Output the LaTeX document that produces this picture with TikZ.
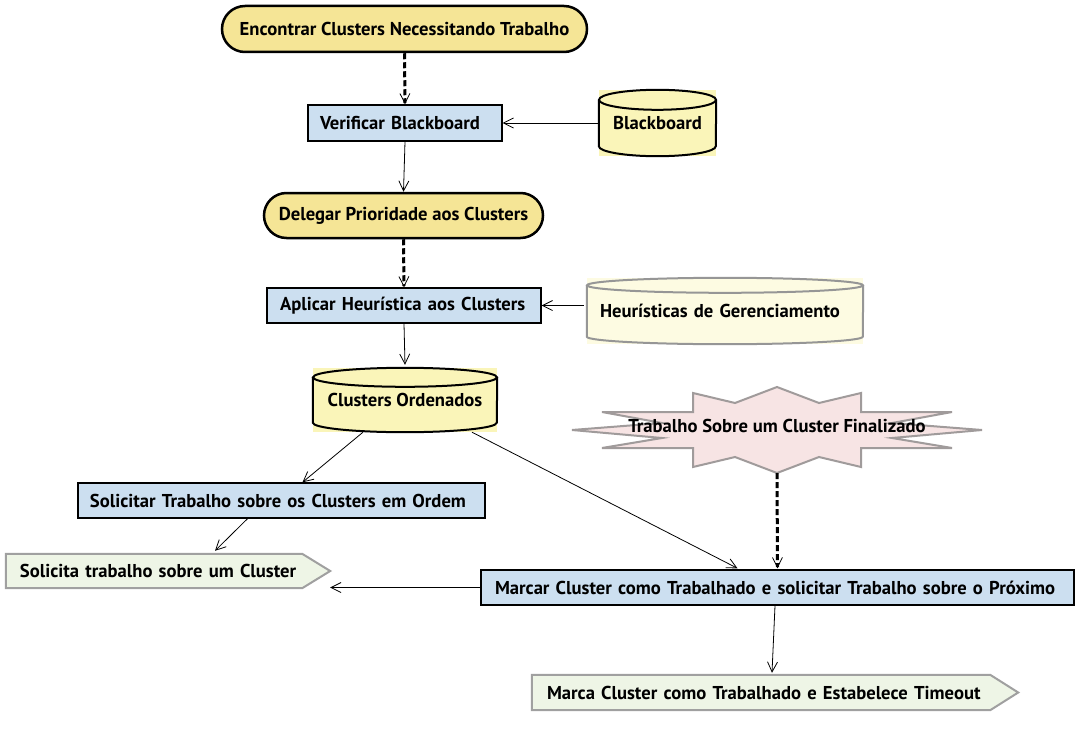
\documentclass[tikz,border=0pt]{standalone}
\usepackage{fontspec}
\setmainfont{PT Sans}
\usetikzlibrary{arrows.meta,calc,shapes.misc,backgrounds}
\definecolor{stadfill}{RGB}{245,229,150}
\definecolor{boxfill}{RGB}{204,223,240}
\definecolor{cylfill}{RGB}{250,245,185}
\definecolor{cylfillb}{RGB}{253,251,226}
\definecolor{cylgray}{RGB}{150,150,150}
\definecolor{starfill}{RGB}{247,228,228}
\definecolor{stargray}{RGB}{160,155,155}
\definecolor{sigfill}{RGB}{238,245,230}
\definecolor{siggray}{RGB}{160,160,160}
% #1 node, #2 ry, #3 fill, #4 draw colour, #5 half width
\newcommand\drawcyl[5]{%
  \fill[#3] (#1.north west) rectangle (#1.south east);
  \draw[#4, line width=2bp] ($(#1.north west)+(0,#2)$) -- ($(#1.south west)+(0,-#2)$)
     arc[start angle=180, end angle=360, x radius=#5bp, y radius=#2bp]
     -- ($(#1.north east)+(0,#2)$);
  \draw[#4, line width=2bp] ($(#1.north)+(0,#2)$) ellipse[x radius=#5bp, y radius=#2bp];
}
\begin{document}
\begin{tikzpicture}[x=1bp,y=-1bp,
  txt/.style={font=\bfseries\fontsize{18.7}{22}\selectfont, text=black, inner sep=0pt},
  stadium/.style={txt, rounded rectangle, draw=black, line width=2.5bp, fill=stadfill},
  box/.style={txt, rectangle, draw=black, line width=1.4bp, fill=boxfill, align=left},
  cylbox/.style={txt, rectangle},
  sigbox/.style={txt, rectangle, align=left},
  conn/.style={line width=0.8bp, -{Straight Barb[length=10bp,width=10bp]}},
  dconn/.style={line width=3bp, dash pattern=on 6bp off 3bp, -{Straight Barb[length=10bp,width=10bp,line width=0.8bp]}},
]
\useasboundingbox (0,0) rectangle (1079,753);

% nodes
\node[stadium, minimum width=365bp, minimum height=46bp] (enc) at (404.5,29) {Encontrar Clusters Necessitando Trabalho};
\node[box, text width=170bp, inner xsep=12bp, minimum height=36bp] (ver) at (405,123) {Verificar Blackboard};
\node[cylbox, minimum width=117bp, minimum height=66bp] (bb) at (657.5,123) {Blackboard};
\node[stadium, minimum width=279bp, minimum height=45bp] (del) at (403.5,215.5) {Delegar Prioridade aos Clusters};
\node[box, text width=248bp, inner xsep=13bp, minimum height=35bp] (apl) at (404,305.5) {Aplicar Heurística aos Clusters};
\node[cylbox, text width=250bp, inner xsep=13bp, align=left, minimum height=66bp] (heu) at (725,311) {Heurísticas de Gerenciamento};
\node[cylbox, minimum width=184bp, minimum height=64bp] (co) at (405,400) {Clusters Ordenados};
\node[txt, minimum width=410bp, minimum height=94bp] (star) at (777,426) {Trabalho Sobre um Cluster Finalizado};
\node[box, text width=383bp, inner xsep=12bp, minimum height=35bp] (sol) at (281.5,500.5) {Solicitar Trabalho sobre os Clusters em Ordem};
\node[sigbox, text width=296bp, inner xsep=14bp, minimum height=34bp] (sa) at (168,571) {Solicita trabalho sobre um Cluster};
\node[box, text width=565bp, inner xsep=14bp, minimum height=35bp] (mc) at (777.5,587.5) {Marcar Cluster como Trabalhado e solicitar Trabalho sobre o Próximo};
\node[sigbox, text width=456bp, inner xsep=15bp, minimum height=35bp] (ma) at (775,692.5) {Marca Cluster como Trabalhado e Estabelece Timeout};

% backgrounds of custom shapes
\begin{scope}[on background layer]
  \fill[white] (0,0) rectangle (1079,753);
  \drawcyl{bb}{10}{cylfill}{black}{58.5}
  \drawcyl{heu}{7.5}{cylfillb}{cylgray}{138}
  \drawcyl{co}{9.5}{cylfill}{black}{92}
  \draw[stargray, line width=2bp, fill=starfill, shift={(star.center)}]
    (0,-39) -- (42,-23) -- (84,-33) -- (84,-14) -- (175,-14) -- (115,-3) -- (205,4)
    -- (115,12) -- (175,22) -- (84,22) -- (84,41) -- (42,31) -- (0,47)
    -- (-42,31) -- (-84,41) -- (-84,22) -- (-175,22) -- (-115,12) -- (-205,4)
    -- (-115,-3) -- (-175,-14) -- (-84,-14) -- (-84,-33) -- (-42,-23) -- cycle;
  \draw[siggray, line width=2bp, fill=sigfill] (sa.north west) -- ($(sa.north east)+(-28,0)$)
    -- (sa.east) -- ($(sa.south east)+(-28,0)$) -- (sa.south west) -- cycle;
  \draw[siggray, line width=2bp, fill=sigfill] (ma.north west) -- ($(ma.north east)+(-28,0)$)
    -- (ma.east) -- ($(ma.south east)+(-28,0)$) -- (ma.south west) -- cycle;
\end{scope}

% connectors
\draw[dconn] (enc.south) -- (ver.north);
\draw[conn] (bb.west) -- (ver.east);
\draw[conn] (ver.south) -- (del.north);
\draw[dconn] (del.south) -- (apl.north);
\draw[conn] ([xshift=-3bp]heu.west |- apl.east) -- (apl.east);
\draw[conn] (apl.south) -- ([yshift=3bp]co.north);
\draw[conn] ([xshift=-42bp]co.south) -- ([xshift=21bp]sol.north);
\draw[conn] ([xshift=67bp]co.south) -- ([xshift=-40bp,yshift=1bp]mc.north);
\draw[conn] ([xshift=-34bp]sol.south) -- ([xshift=47bp,yshift=3bp]sa.north);
\draw[conn] (mc.west) -- (sa.east |- mc.west);
\draw[dconn] (star.south) -- ([yshift=1bp]mc.north);
\draw[conn] ([xshift=-2.5bp]mc.south) -- ([xshift=-3bp,yshift=2bp]ma.north);
\end{tikzpicture}
\end{document}
